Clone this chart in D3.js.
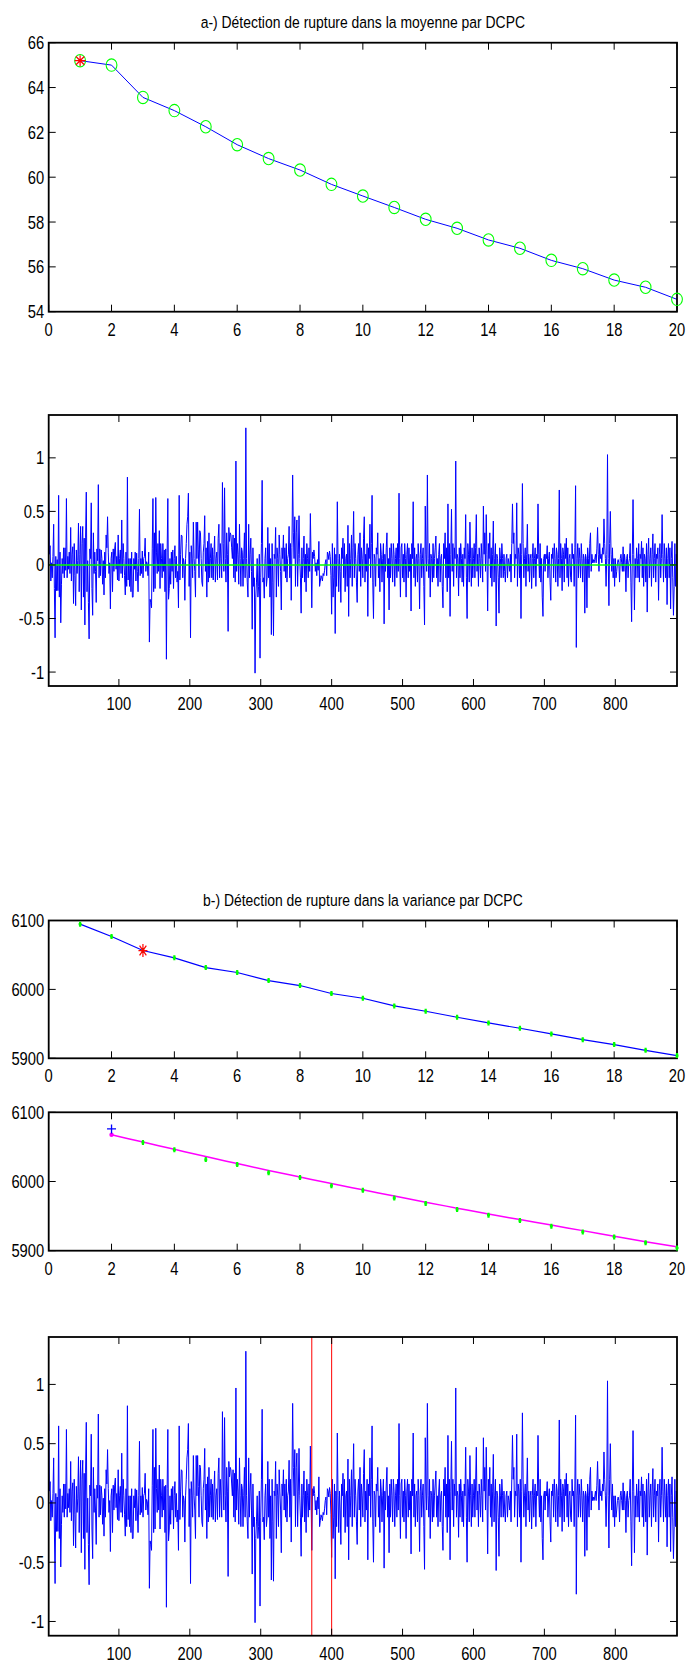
<!DOCTYPE html>
<html>
<head>
<meta charset="utf-8">
<script src="https://cdnjs.cloudflare.com/ajax/libs/d3/7.8.5/d3.min.js"></script>
<style>
  html, body { margin: 0; padding: 0; background: #fff; }
  svg { display: block; }
  text { font-family: "Liberation Sans", Arial, Helvetica, sans-serif; fill: #000; }
</style>
</head>
<body>
<script>
// ---------------- DATA ----------------
const titleA = "a-) Détection de rupture dans la moyenne par DCPC";
const titleB = "b-) Détection de rupture dans la variance par DCPC";

const steps = [1,2,3,4,5,6,7,8,9,10,11,12,13,14,15,16,17,18,19,20];
const meanValues = [65.2,65.0,63.56,62.97,62.25,61.45,60.83,60.32,59.68,59.16,58.65,58.12,57.72,57.20,56.83,56.29,55.92,55.41,55.09,54.55];
const meanBreakStep = 1;

const varValues = [6094.7,6076.8,6056.4,6045.8,6031.7,6024.5,6012.8,6005.6,5994.0,5987.2,5976.0,5968.3,5959.6,5951.3,5943.6,5935.4,5927.1,5919.9,5911.6,5903.9];
const varBreakStep = 3;

const fitSteps = [2,3,4,5,6,7,8,9,10,11,12,13,14,15,16,17,18,19,20];
const fitValues = [6067.5,6057,6046.5,6036,6026,6016,6006.5,5997,5988,5979,5970,5961.5,5953,5945,5937,5929,5921,5913,5905.5];
const fitPointSteps = [3,4,5,6,7,8,9,10,11,12,13,14,15,16,17,18,19,20];
const fitPlusStep = 2;
const fitPlusValue = 6076;

const stepTicks = [0,2,4,6,8,10,12,14,16,18,20];
const meanTicks = [54,56,58,60,62,64,66];
const varTicks = [5900,6000,6100];
const sampleTicks = [100,200,300,400,500,600,700,800];
const residTicks = [-1,-0.5,0,0.5,1];
const breakSamples = [372, 400];

const residuals = [
0.75,0.1,0.18,-0.15,0.02,-0.12,0.08,0.38,-0.22,-0.68,
0.08,-0.24,0.05,-0.24,0.65,-0.3,0.12,-0.54,-0.18,0.06,
-0.08,0.16,-0.12,0.16,-0.05,0.62,-0.12,0.08,-0.04,0.12,
-0.08,0.35,-0.15,0.1,0.17,-0.36,0.2,-0.1,-0.38,0.14,
-0.08,0.04,0.39,-0.25,0.1,0.36,-0.42,0.2,0.36,-0.3,
0.25,-0.56,0.26,0.68,-0.25,0.04,-0.35,-0.69,0.15,0.06,
0.58,-0.22,-0.47,0.3,-0.08,0.12,-0.06,-0.35,0.15,0.04,
0.75,-0.12,0.15,-0.1,0.14,0.06,-0.18,0.04,-0.28,0.12,
-0.12,0.28,0.16,0.45,0.12,-0.08,0.02,-0.41,0.06,0.12,
-0.25,0.15,-0.06,0.15,0.21,-0.04,0.08,-0.14,0.28,-0.15,
0.06,0.14,-0.08,0.42,-0.12,0.2,0.06,-0.1,-0.28,0.12,
-0.2,0.82,-0.14,0.06,-0.2,0.06,-0.25,0.12,-0.3,-0.3,
0.06,-0.04,0.12,-0.15,0.11,-0.06,-0.25,0.06,0.52,-0.1,
0.06,-0.08,0.13,-0.12,0.06,0.08,0.25,-0.06,0.03,0.01,
-0.1,0.12,-0.72,-0.32,-0.35,-0.4,0.15,0.62,-0.25,0.3,
-0.22,0.63,0.12,-0.08,0.2,-0.06,0.32,-0.22,0.2,0.06,
-0.12,0.2,-0.06,0.14,-0.25,0.15,-0.88,0.12,0.62,-0.32,
-0.22,0.06,-0.18,0.12,-0.06,0.14,-0.22,0.06,0.18,-0.12,
0.08,-0.16,-0.06,-0.4,0.65,-0.14,0.1,0.28,0.27,-0.12,
0.06,0.02,-0.33,0.06,0.2,0.38,0.45,0.67,-0.2,0.12,
-0.68,0.18,0.06,-0.12,0.4,0.06,-0.06,-0.3,0.4,0.06,
0.4,0.14,-0.12,0.32,0.3,0.06,-0.16,-0.2,0.12,0.2,
0.46,-0.06,0.16,-0.3,0.22,-0.16,0.3,-0.12,0.06,0.2,
-0.12,0.16,-0.14,0.1,0.27,-0.16,0.06,0.12,-0.14,0.25,
0.38,-0.12,0.2,0.06,-0.12,0.77,0.2,-0.06,0.72,0.06,
-0.16,0.3,0.1,-0.62,0.35,0.22,0.3,0.28,0.16,0.06,
0.28,-0.12,0.25,-0.16,0.97,-0.06,0.2,0.1,-0.18,0.38,
0.06,-0.2,0.16,0.12,-0.2,0.06,0.3,-0.12,1.28,0.06,
-0.16,-0.3,0.38,-0.12,0.1,0.25,-0.06,-0.6,0.16,-0.2,
-0.12,-1.01,-0.3,-0.16,0.06,-0.3,-0.2,0.1,-0.87,-0.12,
0.2,0.79,-0.16,-0.12,-0.31,0.06,0.16,-0.2,-0.12,0.35,
-0.12,0.2,-0.3,0.06,-0.65,0.2,-0.16,-0.66,0.1,0.06,
0.35,-0.3,0.16,0.06,-0.2,0.28,0.1,-0.06,-0.42,0.16,
0.06,0.28,-0.06,0.16,-0.12,0.2,-0.16,0.06,0.1,0.36,
-0.12,0.2,-0.33,0.16,0.84,0.3,0.06,0.45,-0.2,0.3,
0.42,-0.2,0.1,0.46,0.06,-0.12,-0.45,0.16,-0.12,0.06,
0.27,-0.16,0.1,-0.25,0.2,0.06,-0.12,0.16,-0.06,0.48,
0.06,-0.4,0.12,0.06,0.14,0.08,-0.06,0.02,-0.1,0.05,
-0.05,0.22,-0.2,-0.15,-0.1,-0.12,-0.15,-0.08,-0.1,-0.05,
0.02,0.05,-0.1,0.12,0.1,0.05,0.13,0.08,-0.1,-0.46,
0.2,-0.3,-0.12,0.16,-0.64,0.1,-0.2,0.59,0.06,-0.25,
0.1,-0.06,-0.35,0.16,0.06,0.25,-0.12,0.2,-0.25,0.06,
0.1,-0.2,0.37,-0.48,0.2,-0.12,0.06,0.28,-0.2,0.16,
0.5,-0.12,0.2,0.06,-0.16,-0.35,0.1,0.2,-0.06,0.3,
-0.2,0.16,0.06,-0.12,0.25,0.45,-0.16,0.1,-0.06,0.2,
-0.48,0.16,0.06,0.38,-0.12,0.2,0.65,-0.16,-0.5,0.1,
0.06,-0.2,0.16,0.1,0.3,-0.12,0.06,-0.25,0.2,0.1,
-0.16,0.06,0.2,-0.55,0.1,-0.06,0.16,0.3,-0.12,0.06,
-0.42,0.16,-0.12,0.2,0.06,-0.16,0.2,0.1,-0.2,0.06,
0.16,-0.12,0.2,-0.06,0.67,0.06,-0.3,0.16,0.2,-0.12,
0.1,-0.16,0.2,0.06,-0.3,0.1,0.2,-0.12,0.16,-0.06,
0.1,-0.43,0.2,0.06,0.59,-0.12,0.16,-0.2,0.06,0.1,
-0.16,0.2,0.06,-0.41,0.1,0.2,-0.12,0.06,0.16,-0.2,
-0.56,0.55,0.1,-0.06,0.84,0.06,-0.12,0.2,-0.3,0.1,
0.06,-0.16,0.2,-0.12,0.06,0.16,0.27,-0.12,0.06,-0.2,
0.1,0.2,-0.16,0.06,0.1,-0.2,-0.4,0.2,0.06,0.3,
-0.12,0.16,-0.25,0.57,-0.12,0.2,-0.48,0.1,0.52,-0.06,
0.2,-0.2,0.16,0.06,0.97,-0.12,0.1,0.06,-0.29,0.16,
-0.12,0.2,0.06,-0.16,0.1,-0.2,0.16,0.06,0.47,-0.12,
-0.5,0.2,0.1,-0.16,0.4,0.06,-0.2,0.16,-0.12,0.06,
0.2,-0.12,0.16,0.47,-0.06,0.1,-0.2,0.16,0.06,-0.12,
0.2,0.06,-0.16,0.55,0.1,0.3,-0.06,0.47,0.1,-0.43,
0.2,0.06,0.3,-0.12,0.16,-0.2,0.1,0.41,-0.16,0.06,
0.2,-0.57,0.1,0.06,-0.12,-0.45,0.16,0.06,-0.12,0.2,
0.06,-0.12,0.1,-0.06,-0.16,0.06,0.1,-0.12,0.06,0.02,
-0.06,0.1,-0.16,0.2,0.57,0.2,0.3,-0.12,0.1,0.06,
0.58,-0.2,0.16,0.1,-0.12,0.2,-0.5,0.1,0.76,0.2,
-0.12,0.06,0.16,-0.2,0.1,0.38,-0.06,0.1,-0.16,0.06,
0.1,-0.22,0.06,0.2,-0.12,0.06,0.16,-0.2,0.1,0.06,
0.57,0.1,-0.12,0.2,-0.16,0.06,-0.3,-0.48,0.06,0.1,
-0.06,0.1,0.06,0.18,-0.12,0.06,0.12,-0.16,-0.33,0.1,
0.06,0.16,-0.12,0.2,0.06,-0.16,0.16,0.1,-0.2,0.06,
0.7,-0.12,0.2,0.06,-0.24,0.16,0.1,-0.16,0.2,0.06,
0.25,-0.12,0.16,-0.2,0.06,0.1,-0.12,-0.16,0.2,0.06,
0.1,-0.2,0.16,0.74,-0.77,0.06,0.2,-0.12,0.16,0.06,
-0.12,0.2,0.06,-0.16,0.1,0.06,-0.45,0.1,0.06,-0.4,
0.16,0.06,-0.12,0.2,0.3,-0.06,0.1,0.02,0.05,0.02,
0.05,0.1,0.02,0.15,0.35,0.1,-0.06,0.2,0.06,0.1,
0.02,0.16,0.1,0.43,0.2,0.06,-0.2,0.1,1.03,0.06,
-0.38,0.2,0.5,0.1,-0.06,0.16,-0.12,0.06,-0.2,0.06,
-0.12,-0.06,0.02,0.05,0.02,-0.16,0.06,0.1,0.02,-0.06,
0.17,-0.06,0.1,0.02,-0.25,0.06,0.1,-0.12,0.02,0.06,
0.2,-0.16,-0.53,0.1,0.61,0.1,-0.42,0.06,-0.12,0.16,
0.06,-0.12,0.2,-0.16,0.1,0.06,0.22,-0.12,0.16,-0.2,
0.1,0.06,-0.16,0.2,-0.44,0.1,0.25,-0.12,0.06,0.16,
-0.2,0.1,0.29,-0.12,0.06,0.2,-0.16,0.1,0.06,0.16,
-0.33,0.1,0.2,-0.12,0.06,0.47,0.1,-0.16,0.2,0.06,
-0.12,0.16,-0.37,0.06,0.2,-0.12,0.16,-0.41,0.06,0.22,
-0.12,-0.47,-0.2,0.2,-0.2,0.1,0.02
];

// ---------------- LAYOUT ----------------
const W = 689, H = 1668;
const LEFT = 48.7, RIGHT = 677;
const panels = {
  p1: { top: 42.7, bottom: 311.7 },
  p2: { top: 415, bottom: 686 },
  p3: { top: 920.5, bottom: 1058.3 },
  p4: { top: 1112.3, bottom: 1250.7 },
  p5: { top: 1337, bottom: 1635.7 }
};
const BLUE = "#0000ff", GREEN = "#00ff00", RED = "#ff0000", MAGENTA = "#ff00ff";
const TICK = 7, FS = 18, NARROW = 0.82;

const svg = d3.select("body").append("svg").attr("width", W).attr("height", H);
svg.append("rect").attr("width", W).attr("height", H).attr("fill", "#fff");

// narrow (condensed) text, like the reference's Helvetica Narrow
function ntext(g, x, y, txt, size, anchor, dy) {
  return g.append("text")
    .attr("transform", `translate(${x},${y}) scale(${NARROW},1)`)
    .attr("text-anchor", anchor).attr("dy", dy || 0)
    .attr("font-size", size).text(txt);
}

function makeAxes(p, xDomain, yDomain, xTicks, yTicks, yFmt) {
  const x = d3.scaleLinear().domain(xDomain).range([LEFT, RIGHT]);
  const y = d3.scaleLinear().domain(yDomain).range([p.bottom, p.top]);
  const clipId = "clip" + Math.round(p.top);
  svg.append("clipPath").attr("id", clipId).append("rect")
    .attr("x", LEFT).attr("y", p.top).attr("width", RIGHT - LEFT).attr("height", p.bottom - p.top);
  const plot = svg.append("g").attr("clip-path", `url(#${clipId})`);
  const frame = svg.append("g");
  return { x, y, plot, frame, p, xTicks, yTicks, yFmt };
}

function finishAxes(a) {
  const { x, y, frame, p, xTicks, yTicks, yFmt } = a;
  xTicks.forEach(t => {
    const xx = x(t);
    frame.append("line").attr("x1", xx).attr("x2", xx).attr("y1", p.bottom).attr("y2", p.bottom - TICK).attr("stroke", "#000").attr("stroke-width", 1);
    frame.append("line").attr("x1", xx).attr("x2", xx).attr("y1", p.top).attr("y2", p.top + TICK).attr("stroke", "#000").attr("stroke-width", 1);
    ntext(frame, xx, p.bottom + 24, t, FS, "middle");
  });
  yTicks.forEach(t => {
    const yy = y(t);
    frame.append("line").attr("x1", LEFT).attr("x2", LEFT + TICK).attr("y1", yy).attr("y2", yy).attr("stroke", "#000").attr("stroke-width", 1);
    frame.append("line").attr("x1", RIGHT).attr("x2", RIGHT - TICK).attr("y1", yy).attr("y2", yy).attr("stroke", "#000").attr("stroke-width", 1);
    ntext(frame, LEFT - 4.5, yy, yFmt ? yFmt(t) : t, FS, "end", "0.36em");
  });
  frame.append("rect").attr("x", LEFT).attr("y", p.top).attr("width", RIGHT - LEFT).attr("height", p.bottom - p.top)
    .attr("fill", "none").attr("stroke", "#000").attr("stroke-width", 1.8);
}

function asterisk(g, cx, cy, sx, sy, color) {
  const dx = sx * 0.75, dy = sy * 0.75;
  const path = `M${cx - sx},${cy}L${cx + sx},${cy}M${cx},${cy - sy}L${cx},${cy + sy}` +
               `M${cx - dx},${cy - dy}L${cx + dx},${cy + dy}M${cx - dx},${cy + dy}L${cx + dx},${cy - dy}`;
  g.append("path").attr("d", path).attr("stroke", color).attr("stroke-width", 1.2).attr("fill", "none");
}
function plus(g, cx, cy, sx, sy, color, w) {
  g.append("path").attr("d", `M${cx - sx},${cy}L${cx + sx},${cy}M${cx},${cy - sy}L${cx},${cy + sy}`)
    .attr("stroke", color).attr("stroke-width", w).attr("fill", "none");
}

function title(txt, baseline) {
  ntext(svg, (LEFT + RIGHT) / 2, baseline, txt, 17, "middle");
}

const fmtResid = t => (t === 0 ? "0" : String(t));

// ---------- Panel 1 ----------
{
  const a = makeAxes(panels.p1, [0, 20], [54, 66], stepTicks, meanTicks);
  const line = d3.line().x((d, i) => a.x(steps[i])).y(d => a.y(d));
  a.plot.append("path").attr("d", line(meanValues)).attr("fill", "none").attr("stroke", BLUE).attr("stroke-width", 1);
  const mk = svg.append("g");
  meanValues.forEach((v, i) => {
    mk.append("ellipse").attr("cx", a.x(steps[i])).attr("cy", a.y(v)).attr("rx", 5.4).attr("ry", 6.2)
      .attr("fill", "none").attr("stroke", GREEN).attr("stroke-width", 1.1);
  });
  const bi = steps.indexOf(meanBreakStep);
  asterisk(mk, a.x(steps[bi]), a.y(meanValues[bi]), 5.5, 5.5, RED);
  finishAxes(a);
  title(titleA, 27.5);
}

// ---------- Panel 2 ----------
{
  const a = makeAxes(panels.p2, [1, 887], [-1.13, 1.40], sampleTicks, residTicks, fmtResid);
  const line = d3.line().x((d, i) => a.x(i + 1)).y(d => a.y(d));
  a.plot.append("path").attr("d", line(residuals)).attr("fill", "none").attr("stroke", BLUE).attr("stroke-width", 1).attr("stroke-linejoin", "round");
  a.plot.append("line").attr("x1", a.x(1)).attr("x2", a.x(887)).attr("y1", a.y(0)).attr("y2", a.y(0))
    .attr("stroke", GREEN).attr("stroke-width", 1.5);
  finishAxes(a);
}

// ---------- Panel 3 ----------
{
  const a = makeAxes(panels.p3, [0, 20], [5900, 6100], stepTicks, varTicks);
  const line = d3.line().x((d, i) => a.x(steps[i])).y(d => a.y(d));
  a.plot.append("path").attr("d", line(varValues)).attr("fill", "none").attr("stroke", BLUE).attr("stroke-width", 1.2);
  const mk = svg.append("g");
  varValues.forEach((v, i) => plus(mk, a.x(steps[i]), a.y(v), 1.5, 2.5, GREEN, 2.2));
  const bi = steps.indexOf(varBreakStep);
  asterisk(mk, a.x(steps[bi]), a.y(varValues[bi]), 4.5, 6.5, RED);
  finishAxes(a);
  title(titleB, 906);
}

// ---------- Panel 4 ----------
{
  const a = makeAxes(panels.p4, [0, 20], [5900, 6100], stepTicks, varTicks);
  const line = d3.line().x((d, i) => a.x(fitSteps[i])).y(d => a.y(d)).curve(d3.curveMonotoneX);
  a.plot.append("path").attr("d", line(fitValues)).attr("fill", "none").attr("stroke", MAGENTA).attr("stroke-width", 1.5);
  const mk = svg.append("g");
  fitPointSteps.forEach(s => {
    const i = steps.indexOf(s);
    plus(mk, a.x(s), a.y(varValues[i]), 1.5, 2.5, GREEN, 2.2);
  });
  mk.append("circle").attr("cx", a.x(fitSteps[0])).attr("cy", a.y(fitValues[0])).attr("r", 2.2).attr("fill", MAGENTA);
  plus(mk, a.x(fitPlusStep), a.y(fitPlusValue), 4.5, 4.5, BLUE, 1.3);
  finishAxes(a);
}

// ---------- Panel 5 ----------
{
  const a = makeAxes(panels.p5, [1, 887], [-1.12, 1.40], sampleTicks, residTicks, fmtResid);
  const line = d3.line().x((d, i) => a.x(i + 1)).y(d => a.y(d));
  a.plot.append("path").attr("d", line(residuals)).attr("fill", "none").attr("stroke", BLUE).attr("stroke-width", 1).attr("stroke-linejoin", "round");
  breakSamples.forEach(b => {
    a.plot.append("line").attr("x1", a.x(b)).attr("x2", a.x(b)).attr("y1", panels.p5.top).attr("y2", panels.p5.bottom)
      .attr("stroke", RED).attr("stroke-width", 1);
  });
  finishAxes(a);
}
</script>
</body>
</html>
